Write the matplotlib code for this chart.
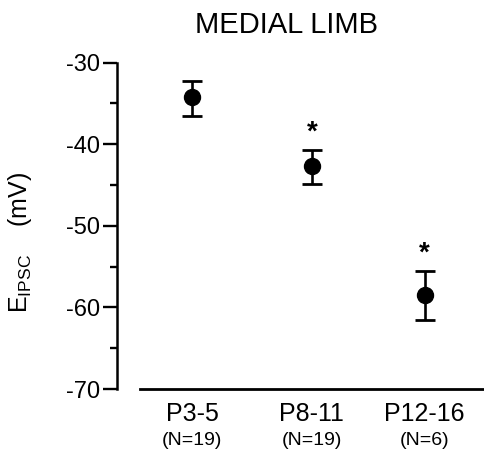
import matplotlib
matplotlib.use("Agg")
import matplotlib.pyplot as plt
from matplotlib.ticker import MultipleLocator
import numpy as np

plt.rcParams['font.family'] = ['Liberation Sans', 'DejaVu Sans']
plt.rcParams['axes.unicode_minus'] = False

groups = ["P3-5", "P8-11", "P12-16"]
counts = ["(N=19)", "(N=19)", "(N=6)"]
e_ipsc = [-34.2, -42.7, -58.5]
err_hi = [-32.2, -40.7, -55.5]
err_lo = [-36.5, -44.9, -61.5]
signif = [False, True, True]

xpos = np.array([0.0, 1.0, 1.94])

fig = plt.figure(figsize=(4.84, 4.61), dpi=100)
ax = fig.add_axes([0.2417, 0.156, 0.756, 0.708])

vals = np.array(e_ipsc)
yerr = [vals - np.array(err_lo), np.array(err_hi) - vals]
ax.errorbar(xpos, vals, yerr=yerr, fmt='o', color='black', ms=11.5,
            elinewidth=1.9, capsize=7.5, capthick=2.0)

for x, top, s in zip(xpos, err_hi, signif):
    if s:
        ax.text(x, top + 0.5, "*", ha='center', va='bottom', fontsize=20,
                fontweight='bold')

ax.set_xlim(-0.625, 2.425)
ax.set_ylim(-70, -30)
ax.yaxis.set_major_locator(MultipleLocator(10))
ax.yaxis.set_minor_locator(MultipleLocator(5))
ax.tick_params(axis='y', which='major', length=10, width=1.7, labelsize=17, pad=2)
ax.tick_params(axis='y', which='minor', length=5, width=1.7)
ax.set_xticks([])

for side in ['top', 'right', 'bottom']:
    ax.spines[side].set_visible(False)
ax.spines['left'].set_linewidth(1.8)
ax.plot([-0.433, 2.425], [-70, -70], color='black', lw=2.0, clip_on=False)

for x, g, n in zip(xpos, groups, counts):
    ax.text(x, -71.6, g, ha='center', va='top', fontsize=18)
    ax.text(x, -75.2, n, ha='center', va='top', fontsize=14)

ax.set_ylabel(r"E$_{\mathregular{IPSC}}$    (mV)", fontsize=18)
ax.yaxis.set_label_coords(-0.228, 0.45)
fig.text(0.592, 0.945, "MEDIAL LIMB", ha='center', va='center', fontsize=21)

fig.savefig("out.png", dpi=100)
